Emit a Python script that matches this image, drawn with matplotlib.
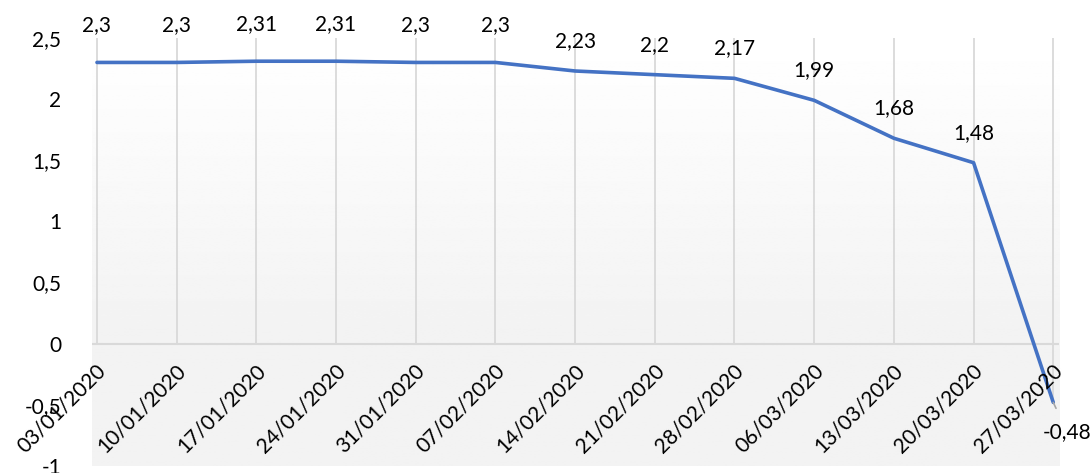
import numpy as np
import matplotlib
matplotlib.use("Agg")
import matplotlib.pyplot as plt
import matplotlib.transforms as mtransforms

dates = ["03/01/2020", "10/01/2020", "17/01/2020", "24/01/2020", "31/01/2020",
         "07/02/2020", "14/02/2020", "21/02/2020", "28/02/2020", "06/03/2020",
         "13/03/2020", "20/03/2020", "27/03/2020"]
values = [2.3, 2.3, 2.31, 2.31, 2.3, 2.3, 2.23, 2.2, 2.17, 1.99, 1.68, 1.48, -0.48]
yticks = [-1, -0.5, 0, 0.5, 1, 1.5, 2, 2.5]

def fmt(v):
    return ("%g" % v).replace(".", ",")

plt.rcParams['font.family'] = ['Lato', 'DejaVu Sans']
fs = 15
fig = plt.figure(figsize=(10.92, 4.73), dpi=100)
ax = fig.add_axes([0.0842, 0.0148, 0.970 - 0.0842, 0.9197 - 0.0148])
x = np.arange(len(values))
ax.set_xlim(-0.063, len(values) - 1 + 0.075)
ax.set_ylim(-1, 2.5)

# gradient background: white at top to light gray at zero, flat below
ys = np.linspace(2.5, -1, 300)
shade = np.where(ys > 0, 1.0 - (2.5 - ys) / 2.5 * 0.05, 0.95)
img = np.repeat(shade[:, None], 2, axis=1)
ax.imshow(img, cmap='gray', vmin=0, vmax=1, aspect='auto',
          extent=[ax.get_xlim()[0], ax.get_xlim()[1], -1, 2.5], zorder=0)

for s in ax.spines.values():
    s.set_visible(False)

# vertical gridlines
for i, v in enumerate(values):
    ax.plot([i, i], [min(0, v), 2.5], color='#d9d9d9', lw=1.3, zorder=1)
ax.axhline(0, color='#d9d9d9', lw=1.5, zorder=1)

ax.plot(x, values, color='#4472C4', lw=2.6, solid_capstyle='round', zorder=3)

# data labels
for i, v in enumerate(values):
    if v >= 0:
        off = 37 if v >= 2.3 else 30
        tr = mtransforms.offset_copy(ax.transData, fig=fig, x=0, y=off * 0.72, units='points')
        ax.text(i, v, fmt(v), transform=tr, ha='center', va='center', fontsize=fs, zorder=4)
    else:
        ax.annotate(fmt(v), xy=(i, v), xytext=(14, -30), textcoords='offset pixels',
                    ha='center', va='center', fontsize=fs, zorder=4,
                    arrowprops=dict(arrowstyle='-', color='#a6a6a6', lw=1.2,
                                    shrinkA=9, shrinkB=0))

# category labels at the zero line
lab_tr = mtransforms.offset_copy(ax.transData, fig=fig, x=6, y=-24, units='dots')
for i, d in enumerate(dates):
    ax.text(i, 0, d, transform=lab_tr, rotation=45, rotation_mode='anchor',
            ha='right', va='center', fontsize=fs, zorder=5)

ax.set_xticks([])
ax.set_yticks(yticks)
ax.set_yticklabels([fmt(t) for t in yticks], fontsize=fs)
ax.tick_params(axis='y', length=0, pad=22)

fig.savefig("out.png", dpi=100)
